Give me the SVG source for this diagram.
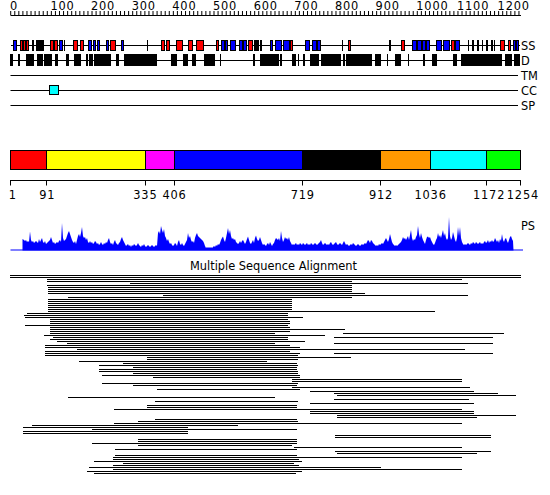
<svg xmlns="http://www.w3.org/2000/svg" width="550" height="495" viewBox="0 0 550 495">
<style>
text{font-family:"DejaVu Sans","Liberation Sans",sans-serif;font-size:11.4px;fill:#000}
.num{letter-spacing:0.8px}
.ln{stroke:#000;stroke-width:1;fill:none}
.bx{stroke:#000;stroke-width:1}
.r{fill:#ff0000}.b{fill:#0000ff}.k{fill:#000}
.tk{fill:#000}
</style>
<rect width="550" height="495" fill="#fff"/>
<g id="ruler">
<path class="ln" d="M10.5 15.5H521"/>
<path d="M10.2 13H521" stroke="#000" stroke-width="4" stroke-dasharray="1 3.066" fill="none"/>
<g class="num">
<text x="10" y="10">0</text><text x="50.4" y="10">100</text><text x="91" y="10">200</text><text x="131.7" y="10">300</text><text x="172.3" y="10">400</text><text x="213" y="10">500</text><text x="253.7" y="10">600</text><text x="294.3" y="10">700</text><text x="335" y="10">800</text><text x="375.6" y="10">900</text><text x="416.3" y="10">1000</text><text x="457" y="10">1100</text><text x="497.6" y="10">1200</text>
</g>
</g>
<g id="track-ss" shape-rendering="crispEdges">
<path class="ln" d="M10.5 45.5H520"/>
<g class="bx">
<rect class="b" x="13.5" y="40.5" width="3" height="10"/>
<rect class="r" x="20.5" y="40.5" width="2" height="10"/><rect class="r" x="23.5" y="40.5" width="2" height="10"/><rect class="r" x="26.5" y="40.5" width="2" height="10"/>
<rect class="k" x="36.5" y="40.5" width="6" height="10"/><rect class="r" x="42.5" y="40.5" width="1" height="10"/>
<rect class="r" x="50.5" y="40.5" width="3" height="10"/><rect class="r" x="54.5" y="40.5" width="3" height="10"/>
<rect class="b" x="59.5" y="40.5" width="3" height="10"/>
<rect class="r" x="73.5" y="40.5" width="4" height="10"/><rect class="r" x="80.5" y="40.5" width="3" height="10"/>
<rect class="b" x="88.5" y="40.5" width="3" height="10"/><rect class="b" x="93.5" y="40.5" width="2" height="10"/><rect class="b" x="97.5" y="40.5" width="2" height="10"/>
<rect class="b" x="106.5" y="40.5" width="1.5" height="10"/>
<rect class="r" x="110.5" y="40.5" width="5" height="10"/>
<rect class="b" x="121.5" y="40.5" width="1.5" height="10"/>
<rect class="r" x="161.5" y="40.5" width="3" height="10"/><rect class="r" x="166.5" y="40.5" width="2.5" height="10"/>
<rect class="r" x="176.5" y="40.5" width="6" height="10"/>
<rect class="r" x="188.5" y="40.5" width="4" height="10"/>
<rect class="r" x="196.5" y="40.5" width="7" height="10"/>
<rect class="r" x="216.5" y="40.5" width="1.5" height="10"/>
<rect class="b" x="221.5" y="40.5" width="3" height="10"/><rect class="b" x="225.5" y="40.5" width="2" height="10"/><rect class="b" x="230.5" y="40.5" width="5" height="10"/>
<rect class="b" x="239.5" y="40.5" width="3" height="10"/><rect class="b" x="243.5" y="40.5" width="3" height="10"/>
<rect class="r" x="248.5" y="40.5" width="3.5" height="10"/>
<rect class="k" x="254.5" y="40.5" width="4" height="10"/>
<rect class="b" x="270.5" y="40.5" width="2" height="10"/>
<rect class="b" x="275.5" y="40.5" width="6" height="10"/><rect class="b" x="283.5" y="40.5" width="6" height="10"/>
<rect class="r" x="290.5" y="40.5" width="2" height="10"/>
<rect class="b" x="305.5" y="40.5" width="4" height="10"/><rect class="b" x="312.5" y="40.5" width="4" height="10"/><rect class="b" x="317.5" y="40.5" width="3" height="10"/>
<rect class="r" x="348.5" y="40.5" width="1.5" height="10"/>
<rect class="r" x="401.5" y="40.5" width="2.5" height="10"/>
<rect class="b" x="412.5" y="40.5" width="4" height="10"/><rect class="b" x="417.5" y="40.5" width="4" height="10"/><rect class="b" x="422.5" y="40.5" width="3" height="10"/><rect class="b" x="426.5" y="40.5" width="3" height="10"/>
<rect class="b" x="436.5" y="40.5" width="5" height="10"/><rect class="b" x="443.5" y="40.5" width="6" height="10"/>
<rect class="r" x="451.5" y="40.5" width="3" height="10"/>
<rect class="b" x="455.5" y="40.5" width="4" height="10"/>
<rect class="r" x="500.5" y="40.5" width="4" height="10"/>
<rect class="r" x="508.5" y="40.5" width="2" height="10"/>
<rect class="b" x="513.5" y="40.5" width="1.5" height="10"/><rect class="b" x="516.5" y="40.5" width="1.5" height="10"/>
</g>
<g class="tk">
<rect x="32" y="40" width="1.5" height="11"/><rect x="63.5" y="40" width="1.5" height="11"/><rect x="146.5" y="40" width="1.5" height="11"/><rect x="260" y="40" width="1.5" height="11"/><rect x="341.5" y="40" width="1.5" height="11"/><rect x="389" y="40" width="1.5" height="11"/>
<rect x="467.5" y="40" width="1.5" height="11"/><rect x="472" y="40" width="1.5" height="11"/><rect x="477" y="40" width="1.5" height="11"/><rect x="481.5" y="40" width="1.5" height="11"/><rect x="486" y="40" width="1.5" height="11"/><rect x="491" y="40" width="1.5" height="11"/><rect x="493.5" y="40" width="1.5" height="11"/>
</g>
<text x="521" y="49.5">SS</text>
</g>
<g id="track-d" shape-rendering="crispEdges">
<path class="ln" d="M10.5 60.5H520"/>
<g class="k">
<rect x="10" y="54" width="3" height="12"/><rect x="18" y="54" width="1.5" height="12"/><rect x="26" y="54" width="7.5" height="12"/><rect x="37" y="54" width="6" height="12"/><rect x="44" y="54" width="8" height="12"/><rect x="55" y="54" width="3" height="12"/><rect x="66" y="54" width="3" height="12"/><rect x="74" y="54" width="7" height="12"/><rect x="86" y="54" width="1.5" height="12"/><rect x="89" y="54" width="4" height="12"/><rect x="94" y="54" width="17" height="12"/><rect x="115.5" y="54" width="3" height="12"/><rect x="124" y="54" width="33" height="12"/><rect x="170.5" y="54" width="6.5" height="12"/><rect x="183" y="54" width="4.5" height="12"/><rect x="192" y="54" width="4" height="12"/><rect x="204" y="54" width="11" height="12"/><rect x="219.5" y="54" width="1.5" height="12"/><rect x="253" y="54" width="1.5" height="12"/><rect x="260" y="54" width="18.5" height="12"/><rect x="280" y="54" width="1.5" height="12"/><rect x="292" y="54" width="4" height="12"/><rect x="297.5" y="54" width="1.5" height="12"/><rect x="303" y="54" width="1.5" height="12"/><rect x="310" y="54" width="8.5" height="12"/><rect x="321" y="54" width="20" height="12"/><rect x="343" y="54" width="1.5" height="12"/><rect x="346" y="54" width="26" height="12"/><rect x="375" y="54" width="6" height="12"/><rect x="386.5" y="54" width="1.5" height="12"/><rect x="395" y="54" width="6" height="12"/><rect x="407.5" y="54" width="1.5" height="12"/><rect x="423" y="54" width="1.5" height="12"/><rect x="431.5" y="54" width="5" height="12"/><rect x="453" y="54" width="4" height="12"/><rect x="461" y="54" width="41" height="12"/><rect x="505" y="54" width="7" height="12"/><rect x="514" y="54" width="6" height="12"/>
</g>
<text x="521" y="65">D</text>
</g>
<g id="track-tm"><path class="ln" d="M10.5 75.5H518"/><text x="521" y="79.5">TM</text></g>
<g id="track-cc"><path class="ln" d="M10.5 90.5H518"/><rect x="49.5" y="85.5" width="9" height="9" fill="#00ffff" class="bx"/><text x="521" y="95">CC</text></g>
<g id="track-sp"><path class="ln" d="M10.5 105.5H518"/><text x="521" y="110">SP</text></g>
<g id="domains" class="bx">
<rect x="10.5" y="150.5" width="36" height="19" fill="#ff0000"/>
<rect x="46.5" y="150.5" width="99" height="19" fill="#ffff00"/>
<rect x="145.5" y="150.5" width="29" height="19" fill="#ff00ff"/>
<rect x="174.5" y="150.5" width="128" height="19" fill="#0000ff"/>
<rect x="302.5" y="150.5" width="78" height="19" fill="#000000"/>
<rect x="380.5" y="150.5" width="50" height="19" fill="#ff9900"/>
<rect x="430.5" y="150.5" width="56" height="19" fill="#00ffff"/>
<rect x="486.5" y="150.5" width="34" height="19" fill="#00ff00"/>
</g>
<g id="axis">
<path class="ln" d="M10.5 180.5H520.5M10.5 180V185.5M46.5 180V185.5M145.5 180V185.5M174.5 180V185.5M302.5 180V185.5M380.5 180V185.5M430.5 180V185.5M486.5 180V185.5M520.5 180V185.5"/>
<g class="num">
<text x="8.7" y="199">1</text><text x="39.2" y="199">91</text><text x="133.3" y="199">335</text><text x="162.5" y="199">406</text><text x="290.7" y="199">719</text><text x="369" y="199">912</text><text x="414.5" y="199">1036</text><text x="473" y="199">1172</text><text x="506.8" y="199">1254</text>
</g>
</g>
<g id="track-ps">
<path d="M10.5 250H523" stroke="#0000ff" stroke-width="1.2" fill="none"/>
<polygon fill="#0000ff" points="22.5,250.5 22.5,239 24,240 25,241 26,240 27,242 28,241 29,242 30,231.5 31,240 32,242 33,241 34,243 35,242 36,241 37,242 38,243 39,239 40,242 41,240 42,238 43,242 44,243 45,241 46,244 47,243 48,242 49,241 50,240 51,237 52,240 53,243 54,242 55,244 56,243 57,242 58,243 59,241 60,240 61,242 62,223 63,238 64,241 65,240 66,239 67,236 68,233 69,231 70,234 71,237 72,240 73,242 74,243 75,241 76,244 77,240 78,236 79,234 80,237 81,233 82,227 83,236 84,238 85,237 86,240 87,238 88,242 89,243 90,241 91,243 92,242 93,244 94,243 95,241 96,242 97,244 98,243 99,245 100,244 101,242 102,244 103,245 104,243 105,244 106,242 107,243 108,240 109,238 110,242 111,244 112,243 113,245 114,242 115,240 116,243 117,244 118,245 119,243 120,242 121,239 122,237 123,240 124,242 125,244 126,246 127,245 128,244 129,246 130,245 131,247 132,245 133,246 134,244 135,245 136,246 137,245 138,243 139,245 140,246 141,247 142,245 143,246 144,244 145,246 146,247 147,246 148,245 149,246 150,247 151,246 152,245 153,246 154,247 155,246 156,245 157,246 158,233 159,231 160,234 161,226 162,230 163,233 164,229 165,236 166,238 167,241 168,239 169,242 170,244 171,243 172,245 173,246 174,245 175,243 176,244 177,246 178,242 179,240 180,244 181,245 182,243 183,245 184,246 185,244 186,242 187,240 188,233 189,238 190,236 191,240 192,242 193,241 194,243 195,238 196,235 197,233 198,236 199,237 200,238 201,239 202,240 203,241 204,243 205,246 206,248 207,247 208,248 209,247 210,248 211,247 212,248 213,247 214,246 215,247 216,245 217,246 218,244 219,245 220,243 221,240 222,238 223,236.5 224,240 225,242 226,238 227,233 228,228 229,234 230,230 231,236 232,239 233,238 234,240 235,239 236,242 237,243 238,244 239,243 240,241 241,243 242,241 243,240 244,242 245,244 246,242 247,239 248,236.5 249,240 250,243 251,244 252,242 253,240 254,243 255,238 256,235.5 257,239 258,241 259,240 260,237 261,240 262,243 263,245 264,244 265,245 266,246 267,244 268,243 269,245 270,242 271,244 272,246 273,244 274,243 275,240 276,238 277,239 278,240 279,238 280,241 281,231 282,238 283,242 284,240 285,237 286,239 287,238 288,240 289,237 290,241 291,243 292,245 293,244 294,245 295,244 296,243 297,245 298,244 299,245 300,243 301,244 302,245 303,243 304,244 305,245 306,244 307,243 308,245 309,244 310,245 311,243 312,244 313,245 314,244 315,243 316,244 317,245 318,244 319,243 320,242 321,240 322,243 323,245 324,244 325,243 326,244 327,245 328,244 329,245 330,243 331,242 332,244 333,245 334,244 335,243 336,242 337,244 338,245 339,244 340,243 341,244 342,245 343,243 344,241 345,243 346,245 347,244 348,245 349,246 350,245 351,244 352,245 353,243 354,244 355,245 356,246 357,245 358,244 359,245 360,246 361,245 362,244 363,245 364,244 365,243 366,244 367,242 368,240 369,241 370,243 371,240 372,241 373,243 374,244 375,245 376,246 377,245 378,246 379,244 380,245 381,244 382,243 383,244 384,242 385,240 386,238 387,240 388,242 389,239 390,234 391,238 392,242 393,244 394,245 395,246 396,245 397,246 398,245 399,244 400,243 401,242 402,240 403,237 404,239 405,238 406,240 407,238 408,236 409,240 410,235 411,230 412,238 413,241 414,239 415,240 416,237 417,235 418,226 419,234 420,238 421,233 422,237 423,240 424,242 425,244 426,240 427,237 428,236.5 429,238 430,237 431,240 432,242 433,244 434,245 435,243 436,240 437,238 438,233 439,237 440,235 441,238 442,234 443,230 444,236 445,233 446,238 447,240 448,238 449,217 450,236 451,240 452,238 453,232 454,236 455,240 456,242 457,238 458,227 459,236 460,227 461,238 462,242 463,244 464,245 465,244 466,245 467,244 468,243 469,244 470,245 471,243 472,244 473,242 474,243 475,244 476,242 477,243 478,244 479,243 480,242 481,244 482,243 483,244 484,242 485,241 486,243 487,242 488,240 489,243 490,241 491,242 492,240 493,242 494,241 495,238 496,240 497,242 498,240 499,243 500,239 501,241 502,234 503,240 504,242 505,239 506,238 507,241 508,243 509,240 510,237 511,236 512,239 513,241 513.5,250.5"/>
<text x="521" y="230">PS</text>
</g>
<g id="msa">
<text x="190" y="270">Multiple Sequence Alignment</text>
<path class="ln" shape-rendering="crispEdges" d="M10 275.5H521M10 277.5H521M47 279.5H462M47 281.5H352M130 283.5H468M47 285.5H352M48 287.5H352M48 289.5H352M48 291.5H352M48 293.5H365M163 295.5H468M68 297.5H352M48 299.5H292M48 301.5H292M48 303.5H292M48 305.5H292M48 307.5H292M48 309.5H292M48 311.5H435M27 313.5H288M24 315.5H288M25 317.5H303M50 319.5H288M50 321.5H290M50 323.5H290M25 325.5H288M50 327.5H290M50 329.5H345M50 331.5H290M50 333.5H275M343 333.5H504M44 335.5H325M53 337.5H288M334 337.5H493M50 339.5H288M57 341.5H305M67 343.5H275M334 343.5H493M45 345.5H290M45 347.5H300M77 349.5H465M45 351.5H290M45 353.5H300M334 353.5H493M45 355.5H298M147 357.5H351M147 359.5H298M79 361.5H267M123 363.5H297M99 365.5H298M133 367.5H297M99 369.5H297M99 371.5H298M133 373.5H298M102 375.5H300M153 377.5H300M292 379.5H462M292 381.5H462M102 383.5H298M133 385.5H297M292 387.5H470M157 389.5H300M310 391.5H474M334 393.5H498M337 395.5H516M68 397.5H275M334 399.5H469M155 401.5H298M310 403.5H474M147 405.5H297M147 407.5H297M114 409.5H462M310 411.5H474M310 413.5H474M337 415.5H516M337 417.5H477M155 419.5H297M138 421.5H298M114 423.5H462M32 425.5H238M23 427.5H188M92 429.5H297M23 431.5H188M23 433.5H188M335 435.5H491M335 437.5H491M138 439.5H297M138 441.5H297M92 443.5H297M138 445.5H292M294 447.5H462M115 449.5H297M335 451.5H491M337 453.5H477M115 455.5H297M113 457.5H462M113 459.5H299M94 461.5H302M123 463.5H294M113 465.5H299M89 467.5H381M113 469.5H462M87 471.5H302M94 473.5H296"/>
</g>
</svg>
